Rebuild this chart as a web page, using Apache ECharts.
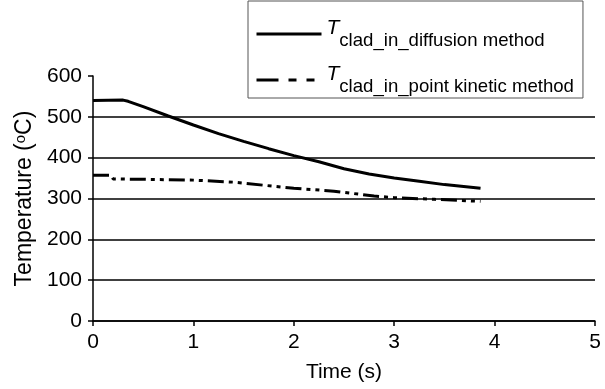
<!DOCTYPE html>
<html>
<head>
<meta charset="utf-8">
<script src="https://cdn.jsdelivr.net/npm/echarts@6/dist/echarts.min.js"></script>
<style>
  html, body { margin: 0; padding: 0; background: #fff; }
  #chart { width: 605px; height: 389px; }
</style>
</head>
<body>
<div id="chart"></div>
<script>
// values
const diffusionTime = [0, 0.3, 0.35, 0.5, 0.75, 1.0, 1.25, 1.5, 1.75, 2.0, 2.25, 2.5, 2.75, 3.0, 3.25, 3.5, 3.86];
const diffusionTemp = [540, 541, 538, 525, 502, 480, 459, 440, 422, 405, 390, 373, 360, 350, 342, 334, 325];

const pointKineticTime = [0, 0.18, 0.2, 0.5, 1.0, 1.4, 1.8, 2.0, 2.4, 2.8, 3.0, 3.4, 3.86];
const pointKineticTemp = [357, 357, 348, 347, 345, 340, 330, 325, 318, 306, 302, 298, 293];

const xTicks = [0, 1, 2, 3, 4, 5];
const yTicks = [0, 100, 200, 300, 400, 500, 600];

const FONT = "Liberation Sans";

const pairs = (xs, ys) => xs.map((x, i) => [x, ys[i]]);

const chart = echarts.init(document.getElementById("chart"));

chart.setOption({
  animation: false,
  grid: { left: 93, right: 10, top: 76, bottom: 68 },
  legend: {
    orient: "vertical",
    left: 248,
    top: 1,
    padding: [17, 9, 2, 7],
    itemGap: 14,
    itemWidth: 65,
    itemHeight: 14,
    backgroundColor: "#fff",
    borderColor: "#555",
    borderWidth: 1,
    selectedMode: false,
    itemStyle: { color: "transparent", borderWidth: 0 },
    lineStyle: { width: 3 },
    data: [
      { name: "diffusion" },
      { name: "pointKinetic", lineStyle: { width: 3, type: [22, 10, 8, 10, 8, 10] } },
    ],
    formatter: (name) =>
      name === "diffusion"
        ? "{t|T}{s|clad_in_diffusion method}"
        : "{t|T}{s|clad_in_point kinetic method}",
    textStyle: {
      color: "#000",
      rich: {
        t: { fontFamily: FONT, fontSize: 21, fontStyle: "italic", verticalAlign: "top", color: "#000" },
        s: { fontFamily: FONT, fontSize: 18.6, verticalAlign: "top", padding: [13, 0, 0, 0], color: "#000" },
      },
    },
  },
  xAxis: {
    type: "value",
    min: xTicks[0],
    max: xTicks[xTicks.length - 1],
    interval: 1,
    name: "Time (s)",
    nameLocation: "middle",
    nameGap: 41,
    nameTextStyle: { fontFamily: FONT, fontSize: 21, color: "#000" },
    axisLine: { show: true, lineStyle: { color: "#000", width: 1.5 } },
    axisTick: { show: true, length: 5, lineStyle: { color: "#000", width: 1.5 } },
    axisLabel: { fontFamily: FONT, fontSize: 21, color: "#000", margin: 11 },
    splitLine: { show: false },
  },
  yAxis: {
    type: "value",
    min: yTicks[0],
    max: yTicks[yTicks.length - 1],
    interval: 100,
    name: "{a|Temperature (}{b|o}{a|C)}",
    nameLocation: "middle",
    nameGap: 57,
    nameTextStyle: {
      color: "#000",
      rich: {
        a: { fontFamily: FONT, fontSize: 23, color: "#000", verticalAlign: "bottom" },
        b: { fontFamily: FONT, fontSize: 15, color: "#000", verticalAlign: "top" },
      },
    },
    axisLine: { show: true, lineStyle: { color: "#000", width: 1.5 } },
    axisTick: { show: true, length: 5, lineStyle: { color: "#000", width: 1.5 } },
    axisLabel: { fontFamily: FONT, fontSize: 21, color: "#000", margin: 11 },
    splitLine: { show: true, showMaxLine: false, lineStyle: { color: "#000", width: 1.5 } },
  },
  series: [
    {
      name: "diffusion",
      type: "line",
      symbol: "none",
      data: pairs(diffusionTime, diffusionTemp),
      lineStyle: { color: "#000", width: 3 },
      itemStyle: { color: "#000" },
    },
    {
      name: "pointKinetic",
      type: "line",
      symbol: "none",
      data: pairs(pointKineticTime, pointKineticTemp),
      lineStyle: { color: "#000", width: 3, type: [16, 5, 4, 5, 4, 5] },
      itemStyle: { color: "#000" },
    },
  ],
});
</script>
</body>
</html>
